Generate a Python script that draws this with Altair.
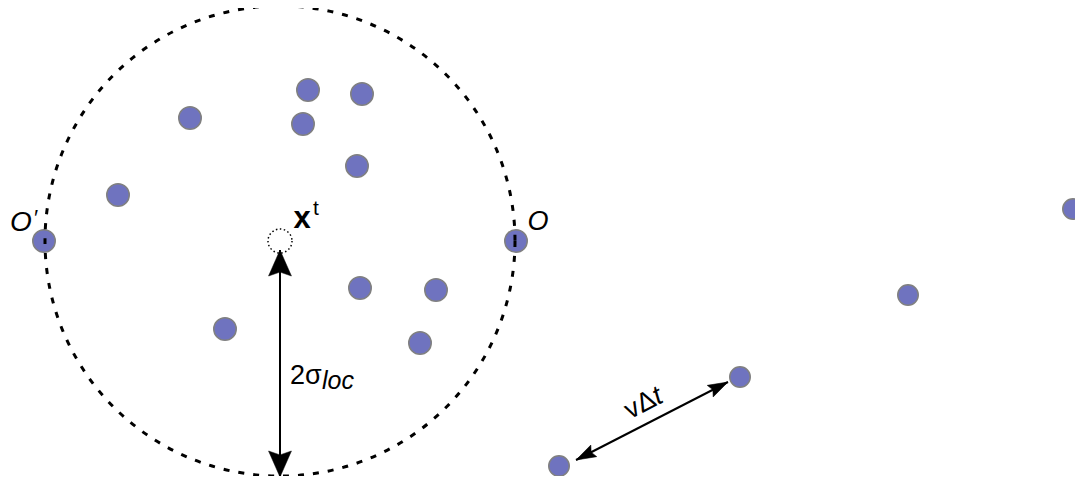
import altair as alt
import pandas as pd

# ---- data (figure coordinates, in pixels of the 1083x484 picture) ----
inner_x = [44, 118, 190, 308, 362, 303, 357, 516, 360, 436, 225, 420]
inner_y = [241, 195, 118, 90, 94, 124, 166, 241, 288, 290, 329, 343]
outer_x = [740, 559, 908, 1073]
outer_y = [377, 466, 295, 209]

center_x = [280]
center_y = [241]

arrow_id = ["sigma", "sigma", "vdt", "vdt"]
arrow_x = [280, 280, 576, 728]
arrow_y = [250, 477, 460, 382]
arrow_ord = [0, 1, 0, 1]

big_head_x = [280, 280]
big_head_y = [250, 477]
big_head_angle = [0, 180]
small_head_x = [728, 576]
small_head_y = [382, 460]
small_head_angle = [62.8, 242.8]

FONT = "Liberation Sans"

X = alt.X("x:Q", scale=alt.Scale(domain=[8, 1075], nice=False, zero=False), axis=None)
Y = alt.Y("y:Q", scale=alt.Scale(domain=[8, 476], reverse=True, nice=False, zero=False), axis=None)

inner = pd.DataFrame({"x": inner_x, "y": inner_y})
outer = pd.DataFrame({"x": outer_x, "y": outer_y})
center = pd.DataFrame({"x": center_x, "y": center_y})
arrows = pd.DataFrame({"id": arrow_id, "x": arrow_x, "y": arrow_y, "o": arrow_ord})
big_heads = pd.DataFrame({"x": big_head_x, "y": big_head_y, "a": big_head_angle})
small_heads = pd.DataFrame({"x": small_head_x, "y": small_head_y, "a": small_head_angle})

FILL = "#6f73bf"
EDGE = "#808080"

pts_in = alt.Chart(inner).mark_point(
    shape="circle", filled=True, fill=FILL, stroke=EDGE, strokeWidth=1.5, size=506, opacity=1
).encode(x=X, y=Y)

pts_out = alt.Chart(outer).mark_point(
    shape="circle", filled=True, fill=FILL, stroke=EDGE, strokeWidth=1.5, size=420, opacity=1
).encode(x=X, y=Y)

big_circle = alt.Chart(center).mark_point(
    shape="circle", filled=False, stroke="black", strokeWidth=3, strokeDash=[6, 9],
    size=220900, opacity=1
).encode(x=X, y=Y)

small_circle = alt.Chart(center).mark_point(
    shape="circle", filled=False, stroke="black", strokeWidth=1.5, strokeDash=[1.5, 2.5],
    size=576, opacity=1
).encode(x=X, y=Y)

lines = alt.Chart(arrows).mark_line(color="black", strokeWidth=2).encode(
    x=X, y=Y, detail="id:N", order="o:Q"
)

big_h = alt.Chart(big_heads).mark_point(
    shape="M0,0L0.88,2L0,1.7L-0.88,2Z", filled=True, fill="black", stroke="black",
    strokeWidth=0.5, size=676, opacity=1
).encode(x=X, y=Y, angle=alt.Angle("a:Q", scale=None))

small_h = alt.Chart(small_heads).mark_point(
    shape="M0,0L0.65,2L0,1.7L-0.65,2Z", filled=True, fill="black", stroke="black",
    strokeWidth=0.5, size=400, opacity=1
).encode(x=X, y=Y, angle=alt.Angle("a:Q", scale=None))


def label(text, x, y, size, style="normal", weight="normal", align="left", angle=0):
    df = pd.DataFrame({"x": [x], "y": [y], "t": [text]})
    kw = dict(font=FONT, fontSize=size, fontStyle=style, fontWeight=weight,
              align=align, baseline="alphabetic", color="black")
    if angle:
        kw["angle"] = angle
    return alt.Chart(df).mark_text(**kw).encode(x=X, y=Y, text="t:N")


texts = [
    label("O", 21, 231, 28, style="italic", align="center"),
    label("\u2032", 35, 225, 22, style="italic", align="center"),
    label("O", 538, 230, 27, style="italic", align="center"),
    label("x", 302, 228, 31, weight="bold", align="center"),
    label("t", 313, 215, 21),
    label("2\u03c3", 290, 384, 27),
    label("loc", 322, 389, 25, style="italic"),
    label("v\u0394", 658, 405, 27, align="right", angle=332.5),
    label("t", 658, 405, 27, style="italic", align="left", angle=332.5),
]

chart = alt.layer(
    pts_in, pts_out, small_circle, big_circle, lines, big_h, small_h, *texts
).properties(
    width=1067, height=468,
    autosize=alt.AutoSizeParams(type="none"),
    padding=0,
).configure_view(strokeWidth=0)

chart.save("out.html", embed_options={"renderer": "svg", "actions": False})
